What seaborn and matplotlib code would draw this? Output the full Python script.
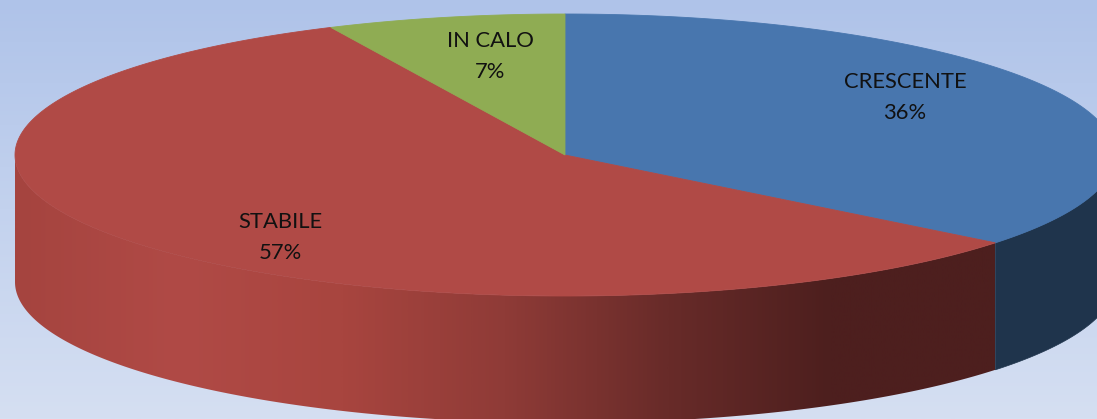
import numpy as np
import seaborn as sns
import matplotlib.pyplot as plt
from matplotlib.patches import Polygon

# dati del grafico
labels = ['CRESCENTE', 'STABILE', 'IN CALO']
shares = [35.7, 57.3, 7.0]
percent_labels = ['36%', '57%', '7%']

top_colors = ['#4876ae', '#b04a46', '#8fac53']

sns.set_theme(style='white')
plt.rcParams['font.family'] = ['Lato', 'DejaVu Sans']

# geometria della torta (pixel)
cx, cy = 565, 155
rx, ry = 550, 141
depth = 127


def rim(a, b, drop=0):
    # bordo dell'ellisse, angoli in senso orario dalle ore 12
    t = np.radians(np.linspace(a, b, 300))
    return np.column_stack([cx + rx * np.sin(t), cy - ry * np.cos(t) + drop])


fig = plt.figure(figsize=(10.97, 4.19), dpi=100)
ax = fig.add_axes([0, 0, 1, 1])

# sfondo sfumato
bg_cmap = sns.blend_palette(['#afc3e9', '#c3d2ee', '#d5dff2'], as_cmap=True)
ax.imshow(np.linspace(0, 1, 256).reshape(-1, 1), cmap=bg_cmap, aspect='auto',
          extent=(0, 1097, 419, 0), zorder=0)

# angoli delle fette
edges = np.cumsum([0] + shares) * 3.6

# parete laterale blu
blue_start, blue_end = 90, edges[1]
wall = np.vstack([rim(blue_start, blue_end), rim(blue_end, blue_start, depth)])
ax.add_patch(Polygon(wall, closed=True, facecolor='#1f344c', edgecolor='#1f344c',
                     linewidth=0.5, zorder=1))

# parete laterale rossa con sfumatura orizzontale
red_cmap = sns.blend_palette(['#a5443f', '#b04a46', '#a8453f', '#8f3b37', '#682b29', '#4d1f1e', '#4d1f1e'],
                             as_cmap=True)
wall = np.vstack([rim(edges[1], 270), rim(270, edges[1], depth)])
patch = Polygon(wall, closed=True, facecolor='none', edgecolor='none', transform=ax.transData)
ax.add_patch(patch)
img = ax.imshow(np.linspace(0, 1, 512).reshape(1, -1), cmap=red_cmap, aspect='auto',
                extent=(15, 995, 419, 0), zorder=1)
img.set_clip_path(patch)

# faccia superiore
for i, color in enumerate(top_colors):
    arc = rim(edges[i], edges[i + 1])
    ax.add_patch(Polygon(np.vstack([[cx, cy], arc]), closed=True, facecolor=color,
                         edgecolor=color, linewidth=0.6, zorder=2))

# etichette
label_x = [905, 280, 490]
label_y = [82, 222, 41]
for name, pct, x, y in zip(labels, percent_labels, label_x, label_y):
    ax.text(x, y, name, ha='center', va='center', fontsize=15.8, color='#111111', zorder=3)
    ax.text(x, y + 31, pct, ha='center', va='center', fontsize=15.8, color='#111111', zorder=3)

ax.set_xlim(0, 1097)
ax.set_ylim(419, 0)
ax.axis('off')

fig.savefig('out.png', dpi=100)
